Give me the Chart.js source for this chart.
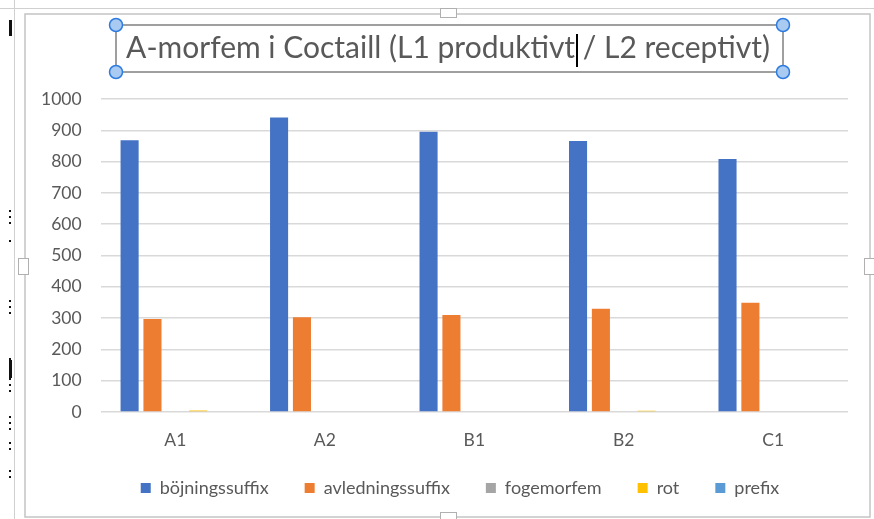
<!DOCTYPE html>
<html>
<head>
<meta charset="utf-8">
<script src="https://cdn.jsdelivr.net/npm/chart.js@4"></script>
<style>
  html, body { margin: 0; padding: 0; background: #fff; }
  #wrap { width: 874px; height: 519px; }
</style>
</head>
<body>
<div id="wrap"><canvas id="chart" width="874" height="519"></canvas></div>
<script>
// data
var categories = ['A1', 'A2', 'B1', 'B2', 'C1'];
var bojningssuffix = [868, 941, 895, 866, 808];
var avledningssuffix = [297, 303, 310, 330, 349];
var fogemorfem = [0, 0, 0, 0, 0];
var rot = [5, 0, 0, 4, 0];
var prefix = [0, 0, 0, 0, 0];
var yTicks = [0, 100, 200, 300, 400, 500, 600, 700, 800, 900, 1000];

var titleText = 'A-morfem i Coctaill (L1 produktivt / L2 receptivt)';
var textColor = '#595959';
var fontFamily = 'Lato, "Open Sans", sans-serif';
var titleSize = 30;

// the Excel selection frame, title box and handles around the chart
var frameDecor = {
  id: 'frameDecor',
  afterLayout: function (chart) {
    // title and legend sit right of the canvas centre in the original
    chart.titleBlock.left += 13;
    chart.titleBlock.right += 13;
    chart.legend.left += 25;
    chart.legend.right += 25;
  },
  afterDraw: function (chart) {
    var ctx = chart.ctx;
    ctx.save();
    ctx.strokeStyle = '#d0d0d0';
    ctx.lineWidth = 1;
    ctx.beginPath();
    ctx.moveTo(0, 8.5); ctx.lineTo(874, 8.5);
    ctx.moveTo(14.5, 0); ctx.lineTo(14.5, 519);
    ctx.stroke();
    ctx.strokeStyle = '#c4c4c4';
    ctx.lineWidth = 1.5;
    ctx.strokeRect(25, 14, 845, 503);

    // dotted marks on the left edge
    ctx.fillStyle = '#111';
    [40, 46, 52, 70, 130, 136, 142, 188, 208, 214, 220, 246, 252, 258, 272, 278, 300, 306].forEach(function (y) {
      ctx.fillRect(9, y + 170, 2, 2);
    });
    ctx.fillRect(9, 360, 3, 18);
    ctx.fillRect(9, 20, 3, 16);

    // sizing handles
    ctx.fillStyle = '#fff';
    ctx.strokeStyle = '#b0b0b0';
    ctx.lineWidth = 1;
    [[440, 8, 16, 9], [18, 258, 10, 16], [864, 258, 10, 16], [440, 512, 16, 7]].forEach(function (h) {
      ctx.fillRect(h[0], h[1], h[2], h[3]);
      ctx.strokeRect(h[0] + 0.5, h[1] + 0.5, h[2], h[3]);
    });

    // title selection box
    ctx.strokeStyle = '#808080';
    ctx.lineWidth = 1.5;
    ctx.strokeRect(116, 25, 667, 47);
    ctx.fillStyle = '#a9cbf2';
    ctx.strokeStyle = '#2e7be0';
    ctx.lineWidth = 1.5;
    [[116, 25], [783, 25], [116, 72], [783, 72]].forEach(function (p) {
      ctx.beginPath();
      ctx.arc(p[0], p[1], 6.5, 0, Math.PI * 2);
      ctx.fill();
      ctx.stroke();
    });

    // text cursor after "produktivt"
    ctx.font = titleSize + 'px ' + fontFamily;
    var full = ctx.measureText(titleText).width;
    var part = ctx.measureText(titleText.slice(0, titleText.indexOf(' /'))).width;
    var tb = chart.titleBlock;
    var cx = (tb.left + tb.right) / 2 - full / 2 + part + 1;
    ctx.fillStyle = '#000';
    ctx.fillRect(Math.round(cx), 34, 2, 33);
    ctx.restore();
  }
};

new Chart(document.getElementById('chart'), {
  type: 'bar',
  data: {
    labels: categories,
    datasets: [{
      label: 'böjningssuffix',
      backgroundColor: '#4472C4',
      data: bojningssuffix
    }, {
      label: 'avledningssuffix',
      backgroundColor: '#ED7D31',
      data: avledningssuffix
    }, {
      label: 'fogemorfem',
      backgroundColor: '#A5A5A5',
      data: fogemorfem
    }, {
      label: 'rot',
      backgroundColor: '#FFC000',
      data: rot
    }, {
      label: 'prefix',
      backgroundColor: '#5B9BD5',
      data: prefix
    }]
  },
  options: {
    responsive: false,
    animation: false,
    categoryPercentage: 0.765,
    barPercentage: 0.79,
    layout: {
      padding: { top: 10, left: 22, right: 26, bottom: 12 }
    },
    plugins: {
      title: {
        display: true,
        text: titleText,
        color: textColor,
        font: { family: fontFamily, size: titleSize, weight: 'normal' },
        padding: { top: 20, bottom: 33 }
      },
      legend: {
        position: 'bottom',
        labels: {
          color: textColor,
          font: { family: fontFamily, size: 18 },
          boxWidth: 10,
          boxHeight: 10,
          padding: 36
        }
      },
      tooltip: { enabled: false }
    },
    scales: {
      x: {
        grid: { display: false, drawTicks: false },
        border: { display: false },
        ticks: {
          color: textColor,
          font: { family: fontFamily, size: 17.5 },
          padding: 18
        },
        afterFit: function (axis) {
          // the axis box overlaps the legend's top padding, so don't clip the labels to it
          axis.height -= 26;
          axis._computeLabelArea = function () { return undefined; };
        }
      },
      y: {
        min: 0,
        max: 1000,
        afterBuildTicks: function (axis) {
          axis.ticks = yTicks.map(function (v) { return { value: v }; });
        },
        grid: { color: '#d9d9d9', lineWidth: 1.5, drawTicks: false },
        border: { display: false },
        ticks: {
          color: textColor,
          font: { family: fontFamily, size: 17.5 },
          padding: 19,
          callback: function (v) { return String(v); }
        }
      }
    }
  },
  plugins: [frameDecor]
});
</script>
</body>
</html>
